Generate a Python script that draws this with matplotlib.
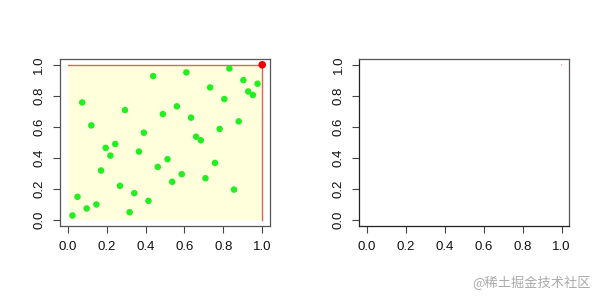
import matplotlib
matplotlib.use("Agg")
import matplotlib.pyplot as plt
from matplotlib.patches import Rectangle

x_vals = [0.024, 0.050, 0.074, 0.097, 0.121, 0.147, 0.171, 0.195, 0.219, 0.244,
          0.268, 0.294, 0.318, 0.342, 0.366, 0.391, 0.415, 0.439, 0.463, 0.489,
          0.513, 0.537, 0.561, 0.586, 0.610, 0.634, 0.660, 0.684, 0.708, 0.732,
          0.757, 0.781, 0.805, 0.831, 0.855, 0.879, 0.903, 0.928, 0.952, 0.976]
y_vals = [0.028, 0.148, 0.757, 0.073, 0.609, 0.099, 0.318, 0.464, 0.414, 0.489,
          0.219, 0.708, 0.049, 0.172, 0.440, 0.562, 0.122, 0.927, 0.341, 0.682,
          0.391, 0.245, 0.732, 0.294, 0.951, 0.659, 0.536, 0.513, 0.268, 0.854,
          0.367, 0.586, 0.779, 0.976, 0.195, 0.635, 0.901, 0.828, 0.805, 0.878]
corner = (1.0, 1.0)
ticks = [0.0, 0.2, 0.4, 0.6, 0.8, 1.0]
tick_labels = ["0.0", "0.2", "0.4", "0.6", "0.8", "1.0"]

plt.rcParams['font.family'] = ['Liberation Sans', 'DejaVu Sans']

fig = plt.figure(figsize=(6, 3), dpi=100)
fig.patch.set_facecolor('white')

def style(ax):
    ax.set_xlim(-0.04, 1.04)
    ax.set_ylim(-0.04, 1.04)
    ax.set_xticks(ticks)
    ax.set_xticklabels(tick_labels)
    ax.set_yticks(ticks)
    ax.set_yticklabels(tick_labels, rotation=90, va='center')
    ax.tick_params(direction='out', length=5, width=0.8, labelsize=9.5,
                   color='#444444', labelcolor='#111111', pad=5.5)
    for s in ax.spines.values():
        s.set_color('#555555')
        s.set_linewidth(0.9)

ax1 = fig.add_axes([0.1, 0.2467, 0.35, 0.558])
style(ax1)
ax1.add_patch(Rectangle((0, 0), 1, 1, facecolor='#FFFFDC', edgecolor='none', zorder=0))
ax1.plot([0, corner[0]], [corner[1], corner[1]], color='#E86060', lw=1.0, zorder=1)
ax1.plot([corner[0], corner[0]], [0, corner[1]], color='#E86060', lw=1.0, zorder=1)
ax1.scatter(x_vals, y_vals, s=22, color='#22EE22', edgecolors='none', zorder=2)
ax1.scatter([corner[0]], [corner[1]], s=30, color='#EE0000', edgecolors='none', zorder=3)

ax2 = fig.add_axes([0.599, 0.2467, 0.35, 0.558])
style(ax2)
ax2.spines['left'].set_color('#222222')
ax2.spines['bottom'].set_color('#222222')
ax2.scatter([corner[0]], [corner[1]], s=1, color='#F0A0A0', edgecolors='none')

fig.text(0.985, 0.057, "@稀土掘金技术社区", ha='right', va='center', fontsize=9.5,
         color='#AAAAAA', family=['Noto Sans CJK SC', 'DejaVu Sans'])

fig.savefig("out.png", dpi=100)
